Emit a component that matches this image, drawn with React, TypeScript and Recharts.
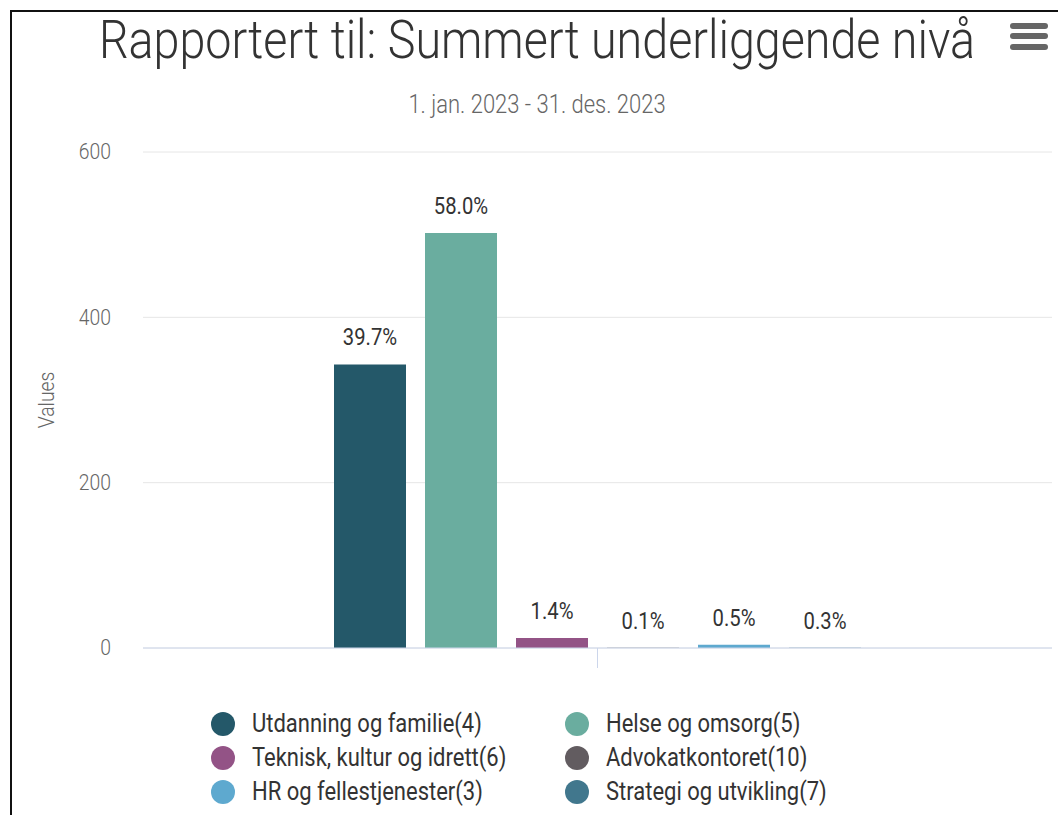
import React from "react";
import { BarChart, Bar, XAxis, YAxis, CartesianGrid, Legend, LabelList } from "recharts";

const chartTitle = "Rapportert til: Summert underliggende nivå";
const chartSubtitle = "1. jan. 2023 - 31. des. 2023";
const yAxisTitle = "Values";

const categories = ["Summert underliggende nivå"];
const seriesNames = [
  "Utdanning og familie(4)",
  "Helse og omsorg(5)",
  "Teknisk, kultur og idrett(6)",
  "Advokatkontoret(10)",
  "HR og fellestjenester(3)",
  "Strategi og utvikling(7)",
];
// the two smallest bars are too thin to show in the picture
const seriesValues = [343, 502, 12, 0.3, 4, 0.3];
const shareLabels = ["39.7%", "58.0%", "1.4%", "0.1%", "0.5%", "0.3%"];
const seriesColors = ["#245869", "#6aad9f", "#935386", "#625c60", "#5ea9cf", "#41778d"];
const yTicks = [0, 200, 400, 600];

const FONT = "Roboto, 'Noto Sans', sans-serif";
const SQUEEZE = 0.88;

const data = categories.map((name) => {
  const row: Record<string, any> = { name };
  seriesValues.forEach((v, i) => (row[`s${i}`] = v));
  return row;
});

function CondText({ x, y, anchor = "middle", size, weight = 400, fill, rotate = 0, baseline = "central", children }: any) {
  return (
    <text
      transform={`translate(${x},${y}) rotate(${rotate}) scale(${SQUEEZE},1)`}
      textAnchor={anchor}
      dominantBaseline={baseline}
      fontSize={size}
      fontWeight={weight}
      fill={fill}
      fontFamily={FONT}
    >
      {children}
    </text>
  );
}

const renderLegend = () => (
  <svg width={1058} height={110} style={{ display: "block" }}>
    {seriesNames.map((n, i) => {
      const col = i % 2;
      const row = Math.floor(i / 2);
      const cx = col ? 577 : 223;
      const cy = 19 + row * 34;
      return (
        <g key={n}>
          <circle cx={cx} cy={cy} r={12} fill={seriesColors[i]} />
          <CondText x={cx + 29} y={cy} anchor="start" size={25} fill="#333">
            {n}
          </CondText>
        </g>
      );
    })}
  </svg>
);

export default function App() {
  return (
    <div style={{ position: "absolute", left: 0, top: 0, width: 1058, height: 815, background: "#fff" }}>
      <BarChart
        width={1058}
        height={815}
        data={data}
        margin={{ top: 152, right: 6, bottom: 137, left: 33 }}
        barSize={72}
        barGap={19}
      >
        <CartesianGrid vertical={false} stroke="#e6e6e6" />
        <XAxis
          dataKey="name"
          height={30}
          axisLine={{ stroke: "#ccd6eb" }}
          tickLine={{ stroke: "#ccd6eb" }}
          tickSize={20}
          tick={() => <g />}
        />
        <YAxis
          width={110}
          domain={[0, 600]}
          ticks={yTicks}
          axisLine={false}
          tickLine={false}
          tickSize={0}
          tickMargin={32}
          tick={(p: any) => (
            <CondText x={p.x} y={p.y} anchor="end" size={22} weight={300} fill="#666">
              {p.payload.value}
            </CondText>
          )}
          label={(p: any) => (
            <CondText
              x={p.viewBox.x + 14}
              y={p.viewBox.y + p.viewBox.height / 2}
              rotate={-90}
              size={22}
              weight={300}
              fill="#666"
            >
              {yAxisTitle}
            </CondText>
          )}
        />
        <Legend
          layout="horizontal"
          verticalAlign="middle"
          align="center"
          content={renderLegend}
          wrapperStyle={{ top: 705, left: 0, width: 1058 }}
        />
        {seriesNames.map((n, i) => (
          <Bar key={n} dataKey={`s${i}`} name={n} fill={seriesColors[i]} isAnimationActive={false}>
            <LabelList
              dataKey={`s${i}`}
              content={(p: any) => (
                <CondText x={p.x + p.width / 2} y={p.y - 27} size={23} fill="#333">
                  {shareLabels[i]}
                </CondText>
              )}
            />
          </Bar>
        ))}
      </BarChart>
      <svg
        width={1058}
        height={815}
        style={{ position: "absolute", left: 0, top: 0, pointerEvents: "none" }}
      >
        <path d="M11,815 L11,11 L1058,11" fill="none" stroke="#111" strokeWidth={2} />
        <CondText x={537} y={58} size={53} weight={300} fill="#333" baseline="alphabetic">
          {chartTitle}
        </CondText>
        <CondText x={537} y={113} size={25} weight={300} fill="#666" baseline="alphabetic">
          {chartSubtitle}
        </CondText>
        {[26, 36, 47].map((y) => (
          <line key={y} x1={1013} x2={1045} y1={y} y2={y} stroke="#666" strokeWidth={6} strokeLinecap="round" />
        ))}
      </svg>
    </div>
  );
}
